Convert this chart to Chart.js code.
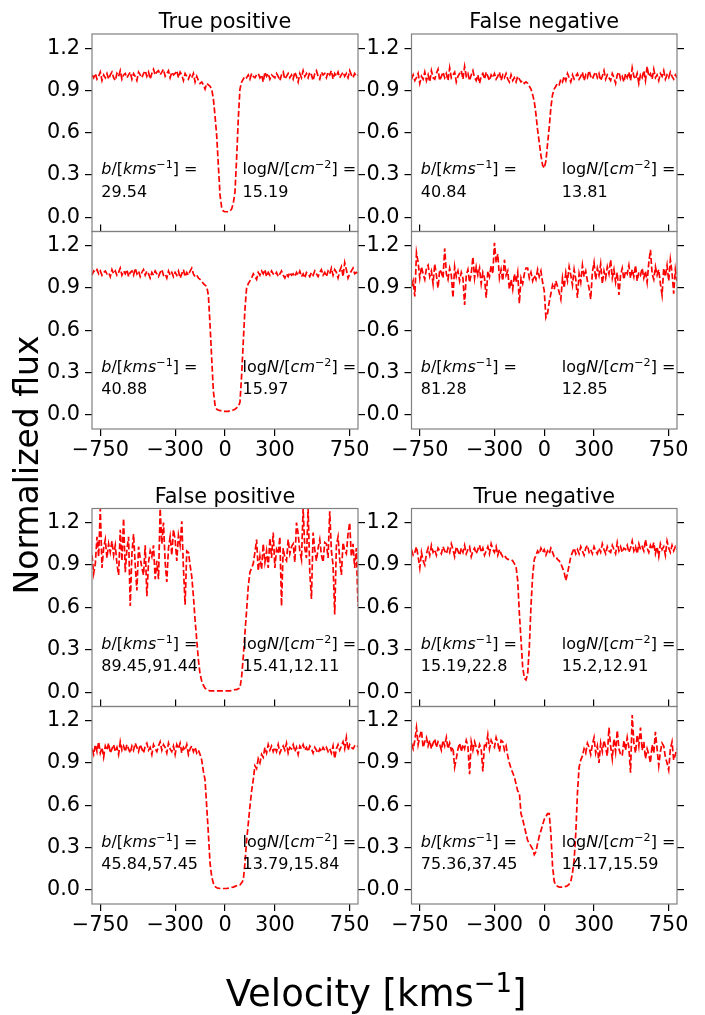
<!DOCTYPE html>
<html>
<head>
<meta charset="utf-8">
<script src="https://cdn.jsdelivr.net/npm/chart.js@4.4.1/dist/chart.umd.min.js"></script>
<style>
    html, body { margin: 0; padding: 0; background: #fff; }
    #fig { position: relative; width: 705px; height: 1015px; background: #fff; }
    #fig canvas { position: absolute; left: 0; top: 0; }
</style>
</head>
<body>
<div id="fig"></div>
<script>
const W = 705, H = 1015;
const FONT = 'DejaVu Sans';

// velocity grid [km/s]
const velocity = [
    -800, -790, -780, -770, -760, -750, -740, -730, -720, -710,
    -700, -690, -680, -670, -660, -650, -640, -630, -620, -610,
    -600, -590, -580, -570, -560, -550, -540, -530, -520, -510,
    -500, -490, -480, -470, -460, -450, -440, -430, -420, -410,
    -400, -390, -380, -370, -360, -350, -340, -330, -320, -310,
    -300, -290, -280, -270, -260, -250, -240, -230, -220, -210,
    -200, -190, -180, -170, -160, -150, -140, -130, -120, -110,
    -100, -90, -80, -70, -60, -50, -40, -30, -20, -10,
    0, 10, 20, 30, 40, 50, 60, 70, 80, 90,
    100, 110, 120, 130, 140, 150, 160, 170, 180, 190,
    200, 210, 220, 230, 240, 250, 260, 270, 280, 290,
    300, 310, 320, 330, 340, 350, 360, 370, 380, 390,
    400, 410, 420, 430, 440, 450, 460, 470, 480, 490,
    500, 510, 520, 530, 540, 550, 560, 570, 580, 590,
    600, 610, 620, 630, 640, 650, 660, 670, 680, 690,
    700, 710, 720, 730, 740, 750, 760, 770, 780, 790,
    800
];

const xTicks = [-750, -300, 0, 300, 750];
const yTicks = [0.0, 0.3, 0.6, 0.9, 1.2];

// True positive
const fluxTP1 = [
    1.01, 0.99, 1.02, 0.98, 1.00, 1.03, 0.97, 1.01, 0.99, 1.02,
    0.98, 1.01, 1.03, 0.99, 0.97, 1.02, 1.00, 1.04, 0.98, 1.01,
    1.02, 0.99, 1.01, 1.03, 0.98, 1.02, 1.00, 0.97, 1.03, 1.01,
    0.99, 1.02, 1.04, 1.00, 1.03, 0.98, 1.02, 1.05, 1.01, 1.03,
    1.04, 1.01, 1.03, 1.05, 1.00, 1.02, 1.04, 0.99, 1.03, 1.01,
    1.02, 1.04, 0.99, 1.03, 1.01, 0.97, 1.02, 1.00, 0.98, 1.01,
    0.99, 1.02, 0.96, 1.00, 0.97, 0.95, 0.96, 0.94, 0.91, 0.95,
    0.94, 0.93, 0.91, 0.84, 0.72, 0.58, 0.37, 0.16, 0.07, 0.045,
    0.04, 0.04, 0.04, 0.045, 0.06, 0.10, 0.18, 0.42, 0.70, 0.91,
    0.96, 0.98, 1.00, 0.99, 1.01, 0.98, 1.02, 1.00, 0.99, 1.01,
    1.02, 0.99, 1.01, 0.96, 1.03, 1.00, 1.02, 0.98, 1.01, 1.00,
    0.99, 1.02, 1.00, 0.97, 1.01, 1.03, 0.98, 1.00, 1.02, 0.99,
    1.01, 0.98, 1.03, 1.00, 0.96, 1.02, 0.99, 1.04, 1.00, 1.02,
    0.99, 1.03, 1.01, 0.97, 1.02, 1.04, 1.00, 0.98, 1.03, 1.01,
    1.02, 0.99, 1.03, 1.01, 1.04, 0.98, 1.02, 1.00, 1.03, 0.99,
    1.01, 1.03, 1.00, 1.02, 0.99, 1.04, 1.01, 0.99, 1.02, 1.00,
    1.01
];
const fluxTP2 = [
    0.99, 1.02, 1.01, 1.03, 1.00, 1.02, 0.99, 1.01, 1.02, 1.00,
    1.01, 0.98, 1.03, 1.00, 1.02, 0.99, 1.01, 1.04, 0.99, 1.02,
    1.00, 1.03, 0.98, 1.01, 1.02, 0.99, 1.04, 1.00, 1.02, 0.98,
    1.01, 1.03, 0.99, 1.02, 1.00, 0.97, 1.01, 0.99, 1.02, 1.00,
    0.98, 1.01, 1.03, 0.99, 1.00, 0.97, 1.02, 0.99, 1.01, 0.98,
    1.01, 0.99, 1.02, 0.97, 1.00, 1.03, 0.98, 1.01, 0.99, 1.02,
    1.04, 1.00, 0.98, 0.99, 0.97, 0.96, 0.95, 0.93, 0.92, 0.91,
    0.85, 0.64, 0.40, 0.17, 0.07, 0.04, 0.035, 0.03, 0.03, 0.025,
    0.025, 0.025, 0.025, 0.03, 0.03, 0.035, 0.04, 0.05, 0.06, 0.09,
    0.28, 0.52, 0.75, 0.90, 0.93, 0.95, 0.97, 1.00, 0.98, 0.96,
    1.01, 0.99, 1.02, 1.00, 1.03, 0.98, 1.01, 0.99, 1.02, 1.00,
    0.99, 1.01, 0.98, 1.00, 1.02, 0.99, 0.97, 1.00, 0.98, 1.01,
    0.99, 1.00, 0.98, 1.01, 0.99, 1.02, 0.98, 1.00, 0.97, 1.01,
    1.00, 0.98, 1.01, 0.99, 1.02, 1.00, 0.98, 1.01, 1.03, 0.99,
    1.01, 0.98, 1.02, 1.00, 1.04, 0.99, 1.03, 1.01, 0.97, 1.02,
    1.05, 0.98, 1.08, 1.03, 0.97, 1.00, 1.02, 1.04, 1.00, 1.01,
    1.00
];

// False negative
const fluxFN1 = [
    0.98, 1.01, 0.97, 0.99, 1.02, 0.95, 1.00, 0.98, 1.03, 0.97,
    1.01, 0.96, 1.04, 0.99, 0.98, 1.02, 1.05, 0.97, 1.00, 1.03,
    0.99, 1.02, 0.97, 1.06, 0.99, 1.01, 1.03, 0.96, 1.00, 1.02,
    1.04, 0.98, 1.07, 1.00, 1.02, 0.97, 1.01, 1.04, 0.99, 0.97,
    1.01, 0.95, 1.00, 1.02, 0.98, 1.03, 1.00, 0.97, 1.01, 0.99,
    1.02, 0.98, 1.00, 1.03, 0.97, 1.01, 0.99, 1.02, 0.98, 0.96,
    1.01, 0.97, 0.99, 0.96, 1.00, 0.98, 0.96, 0.97, 0.95, 0.96,
    0.95, 0.93, 0.91, 0.87, 0.82, 0.73, 0.62, 0.53, 0.44, 0.37,
    0.35, 0.40, 0.52, 0.64, 0.78, 0.87, 0.91, 0.93, 0.95, 0.94,
    0.98, 0.96, 1.00, 0.97, 1.02, 0.99, 0.96, 1.01, 0.98, 1.00,
    1.02, 0.98, 1.00, 1.03, 0.97, 1.01, 0.99, 1.04, 1.00, 0.98,
    1.01, 1.03, 0.99, 1.02, 0.97, 1.00, 1.04, 0.98, 1.01, 0.99,
    0.97, 1.02, 0.99, 0.95, 1.01, 1.03, 0.98, 1.00, 0.96, 1.02,
    0.99, 1.03, 0.97, 1.06, 1.00, 0.98, 1.02, 0.95, 1.01, 0.99,
    1.04, 0.97, 1.07, 1.00, 1.02, 0.98, 1.05, 0.99, 1.01, 0.97,
    1.02, 1.00, 1.04, 0.98, 1.01, 0.99, 1.03, 1.00, 0.98, 1.01,
    0.99
];
const fluxFN2 = [
    0.91, 0.95, 0.84, 1.15, 1.08, 0.97, 1.05, 1.00, 0.96, 1.04,
    1.06, 0.98, 1.02, 0.93, 1.07, 0.99, 0.90, 1.03, 1.01, 0.97,
    1.18, 1.00, 0.96, 1.04, 0.99, 0.83, 1.05, 0.98, 1.02, 0.95,
    1.01, 0.97, 0.78, 0.99, 1.03, 0.94, 1.00, 1.12, 0.97, 1.05,
    0.99, 1.04, 0.93, 1.01, 0.97, 0.83, 1.02, 0.98, 1.06, 1.00,
    1.22, 1.08, 1.14, 0.97, 1.03, 0.95, 1.10, 0.99, 1.02, 0.89,
    0.96, 0.89, 1.00, 0.94, 1.01, 0.79, 0.97, 0.93, 1.00, 1.04,
    1.04, 0.97, 1.01, 0.95, 0.99, 0.96, 1.03, 0.98, 1.02, 0.94,
    0.88, 0.69, 0.72, 0.80, 0.86, 0.92, 0.89, 0.95, 0.91, 0.87,
    0.82, 0.97, 0.90, 1.01, 0.95, 1.05, 0.99, 0.92, 1.03, 0.96,
    0.83, 1.00, 0.94, 1.06, 0.98, 1.02, 0.95, 0.90, 0.82, 1.01,
    1.08, 0.96, 1.04, 0.99, 1.07, 0.93, 1.02, 0.97, 1.05, 1.00,
    1.10, 0.97, 1.03, 0.94, 1.01, 0.85, 0.99, 1.04, 0.96, 1.02,
    1.00, 1.06, 0.97, 1.03, 0.98, 1.06, 0.95, 1.01, 0.99, 1.04,
    0.97, 1.02, 0.94, 1.08, 1.17, 1.00, 0.96, 1.05, 0.99, 1.03,
    0.93, 0.85, 1.04, 0.98, 1.06, 0.95, 1.10, 1.01, 0.86, 1.03,
    0.95
];

// False positive
const fluxFP1 = [
    0.97, 0.84, 0.91, 1.10, 0.96, 1.30, 0.88, 1.02, 1.08, 0.95,
    1.05, 0.99, 1.07, 0.97, 1.04, 0.91, 0.83, 1.15, 0.93, 1.23,
    0.85, 1.01, 1.10, 0.61, 0.98, 1.12, 0.90, 0.72, 1.03, 0.95,
    0.88, 0.83, 1.04, 0.68, 0.92, 1.00, 0.96, 1.04, 0.80, 0.93,
    0.80, 1.30, 1.05, 1.20, 0.92, 0.78, 1.02, 1.10, 0.97, 1.15,
    1.08, 0.93, 1.11, 1.04, 1.21, 0.88, 0.62, 1.00, 0.99, 0.90,
    0.82, 0.68, 0.51, 0.37, 0.23, 0.13, 0.08, 0.05, 0.03, 0.02,
    0.015, 0.01, 0.01, 0.01, 0.01, 0.01, 0.01, 0.01, 0.01, 0.01,
    0.01, 0.01, 0.01, 0.01, 0.015, 0.015, 0.02, 0.02, 0.025, 0.03,
    0.11, 0.25, 0.42, 0.58, 0.75, 0.85, 0.88, 0.91, 0.99, 1.08,
    0.86, 0.96, 0.87, 1.05, 0.92, 1.00, 0.88, 1.09, 0.95, 1.13,
    0.88, 1.01, 0.98, 1.10, 0.61, 1.02, 0.95, 0.93, 1.08, 0.98,
    1.03, 1.05, 0.92, 1.20, 1.12, 1.00, 0.94, 1.30, 1.02, 0.95,
    1.30, 0.85, 0.66, 1.13, 1.01, 0.93, 1.02, 1.08, 0.97, 0.92,
    1.06, 1.05, 0.95, 1.28, 1.00, 0.90, 0.55, 1.04, 1.10, 0.94,
    0.83, 1.06, 1.00, 0.98, 1.12, 1.20, 0.96, 1.05, 0.88, 1.02,
    0.61
];
const fluxFP2 = [
    1.00, 0.96, 1.03, 0.98, 1.05, 0.97, 1.01, 0.94, 1.02, 0.99,
    1.04, 0.97, 1.00, 1.03, 0.98, 1.01, 0.96, 1.05, 0.99, 1.02,
    0.98, 1.03, 1.00, 0.97, 1.02, 0.99, 1.04, 1.01, 0.98, 1.03,
    1.00, 0.97, 1.02, 1.04, 0.99, 1.01, 0.96, 1.03, 1.00, 0.98,
    1.02, 1.05, 0.99, 1.03, 1.01, 0.97, 1.04, 1.00, 0.98, 1.02,
    0.96, 1.03, 1.00, 1.04, 0.97, 1.01, 0.99, 1.03, 0.96, 1.00,
    1.02, 0.98, 1.01, 0.97, 0.99, 0.96, 0.92, 0.84, 0.78, 0.59,
    0.40, 0.19, 0.094, 0.047, 0.025, 0.015, 0.012, 0.01, 0.01, 0.01,
    0.01, 0.01, 0.012, 0.015, 0.018, 0.02, 0.025, 0.03, 0.035, 0.035,
    0.05, 0.07, 0.19, 0.35, 0.47, 0.59, 0.70, 0.78, 0.88, 0.86,
    0.93, 0.90, 0.96, 0.94, 1.01, 0.97, 1.03, 0.99, 1.02, 0.98,
    1.01, 0.98, 1.03, 0.97, 1.00, 1.02, 0.99, 1.04, 0.97, 1.01,
    1.00, 1.03, 0.98, 1.01, 0.96, 1.02, 1.00, 1.03, 0.99, 1.01,
    0.98, 1.02, 1.00, 0.97, 1.01, 0.99, 0.97, 1.00, 0.98, 1.01,
    0.99, 1.01, 0.98, 1.00, 0.97, 1.02, 0.93, 1.00, 1.03, 0.99,
    1.02, 1.05, 1.00, 1.08, 0.99, 1.03, 1.01, 1.00, 1.02, 1.01,
    1.02
];

// True negative
const fluxTN1 = [
    1.01, 0.97, 0.99, 1.03, 0.96, 0.88, 0.99, 0.93, 0.90, 0.98,
    1.02, 0.97, 1.04, 0.99, 1.01, 0.97, 1.02, 1.00, 0.98, 1.03,
    1.00, 0.98, 1.02, 0.99, 1.05, 1.01, 0.96, 1.03, 1.00, 0.97,
    1.02, 0.99, 1.04, 0.98, 1.01, 1.03, 0.96, 1.00, 1.02, 0.98,
    1.01, 1.04, 0.99, 1.02, 0.97, 1.00, 1.03, 0.98, 1.05, 1.01,
    0.99, 1.03, 0.97, 1.01, 0.98, 0.96, 0.97, 0.95, 0.94, 0.94,
    0.94, 0.93, 0.91, 0.89, 0.79, 0.56, 0.37, 0.18, 0.10, 0.088,
    0.13, 0.32, 0.61, 0.82, 0.94, 0.97, 1.00, 0.98, 1.02, 0.99,
    1.01, 0.97, 1.00, 0.98, 1.02, 0.99, 0.96, 0.96, 0.94, 0.93,
    0.91, 0.88, 0.85, 0.79, 0.84, 0.90, 0.96, 0.99, 1.02, 0.98,
    1.01, 0.98, 1.03, 1.00, 0.97, 1.02, 1.04, 0.99, 1.01, 0.98,
    1.03, 1.00, 0.98, 1.02, 0.99, 1.05, 1.01, 0.98, 1.03, 1.00,
    0.99, 1.04, 1.01, 0.98, 1.06, 1.00, 1.03, 0.99, 1.02, 1.01,
    1.04, 0.99, 1.02, 1.07, 1.00, 1.03, 0.98, 1.05, 1.01, 1.03,
    1.00, 1.08, 1.02, 0.99, 1.04, 1.01, 1.06, 0.98, 1.03, 0.96,
    1.05, 1.01, 1.03, 0.97, 1.07, 1.02, 0.99, 1.04, 1.00, 1.03,
    1.01
];
const fluxTN2 = [
    1.04, 1.00, 1.06, 1.15, 1.03, 1.09, 1.13, 1.01, 1.05, 1.08,
    1.02, 1.06, 1.00, 1.04, 1.07, 1.01, 1.05, 1.03, 0.99, 1.06,
    1.02, 1.08, 1.00, 1.04, 0.99, 1.01, 0.87, 0.93, 1.00, 1.04,
    0.98, 1.03, 1.00, 1.06, 1.02, 0.82, 1.05, 0.99, 1.05, 1.01,
    0.97, 1.03, 1.00, 0.84, 1.04, 1.02, 1.10, 1.00, 1.06, 1.03,
    1.01, 1.08, 1.04, 0.98, 1.06, 1.05, 0.99, 1.02, 0.95, 0.90,
    0.86, 0.83, 0.80, 0.75, 0.70, 0.69, 0.54, 0.50, 0.45, 0.40,
    0.35, 0.33, 0.31, 0.29, 0.25, 0.27, 0.33, 0.38, 0.42, 0.46,
    0.50, 0.52, 0.54, 0.54, 0.40, 0.17, 0.06, 0.035, 0.025, 0.02,
    0.02, 0.02, 0.02, 0.025, 0.03, 0.04, 0.06, 0.12, 0.21, 0.40,
    0.685, 0.87, 0.92, 0.95, 1.00, 0.97, 1.04, 1.01, 0.96, 1.03,
    1.08, 0.97, 1.02, 0.90, 1.04, 0.98, 1.06, 1.01, 0.95, 1.15,
    1.02, 0.93, 1.07, 0.98, 1.13, 1.00, 0.96, 0.95, 1.06, 0.99,
    1.08, 1.01, 0.83, 1.24, 1.04, 0.97, 1.10, 1.02, 1.15, 0.99,
    1.05, 0.93, 1.00, 0.96, 0.90, 1.03, 0.97, 1.12, 1.00, 0.88,
    0.98, 1.04, 1.02, 0.94, 0.90, 0.85, 1.00, 1.05, 0.92, 0.96,
    1.00
];

// plot-area boxes [left, top, right, bottom] in page pixels
const panels = [
    { flux: fluxTP1, b: '29.54', logN: '15.19', title: 'True positive', box: [92, 34, 358, 231.5], lower: false },
    { flux: fluxTP2, b: '40.88', logN: '15.97', box: [92, 231.5, 358, 429], lower: true },
    { flux: fluxFN1, b: '40.84', logN: '13.81', title: 'False negative', box: [411.5, 34, 677, 231.5], lower: false },
    { flux: fluxFN2, b: '81.28', logN: '12.85', box: [411.5, 231.5, 677, 429], lower: true },
    { flux: fluxFP1, b: '89.45,91.44', logN: '15.41,12.11', title: 'False positive', box: [92, 508.5, 358, 706.5], lower: false },
    { flux: fluxFP2, b: '45.84,57.45', logN: '13.79,15.84', box: [92, 706.5, 358, 904], lower: true },
    { flux: fluxTN1, b: '15.19,22.8', logN: '15.2,12.91', title: 'True negative', box: [411.5, 508.5, 677, 706.5], lower: false },
    { flux: fluxTN2, b: '75.36,37.45', logN: '14.17,15.59', box: [411.5, 706.5, 677, 904], lower: true }
];

function drawRuns(ctx, runs, x, y, size) {
    for (const r of runs) {
        const s = r.sup ? size * 0.7 : size;
        ctx.font = (r.it ? 'italic ' : '') + s + 'px "' + FONT + '"';
        ctx.fillText(r.t, x, r.sup ? y - size * 0.38 : y);
        x += ctx.measureText(r.t).width;
    }
    return x;
}

function runsWidth(ctx, runs, size) {
    let w = 0;
    for (const r of runs) {
        const s = r.sup ? size * 0.7 : size;
        ctx.font = (r.it ? 'italic ' : '') + s + 'px "' + FONT + '"';
        w += ctx.measureText(r.t).width;
    }
    return w;
}

const bLabel = [{ t: 'b', it: true }, { t: '/[' }, { t: 'kms', it: true }, { t: '\u22121', sup: true }, { t: '] =' }];
const nLabel = [{ t: 'log' }, { t: 'N', it: true }, { t: '/[' }, { t: 'cm', it: true }, { t: '\u22122', sup: true }, { t: '] =' }];

const panelDecor = {
    id: 'panelDecor',
    afterDraw(chart, args, opts) {
        const ctx = chart.ctx, a = chart.chartArea;
        const xs = chart.scales.x, ys = chart.scales.y;
        ctx.save();
        ctx.strokeStyle = '#808080';
        ctx.lineWidth = 1.2;
        ctx.strokeRect(a.left, a.top, a.right - a.left, a.bottom - a.top);

        ctx.fillStyle = '#000';
        ctx.textBaseline = 'alphabetic';
        ctx.textAlign = 'left';
        const x1 = xs.getPixelForValue(-750) + 1;
        const x2 = xs.getPixelForValue(106);
        const l1 = ys.getPixelForValue(0.307), l2 = ys.getPixelForValue(0.148);
        drawRuns(ctx, bLabel, x1, l1, 16);
        drawRuns(ctx, [{ t: opts.b }], x1, l2, 16);
        drawRuns(ctx, nLabel, x2, l1, 16);
        drawRuns(ctx, [{ t: opts.logN }], x2, l2, 16);

        if (opts.title) {
            ctx.textAlign = 'center';
            ctx.font = '20.8px "' + FONT + '"';
            ctx.fillText(opts.title, (a.left + a.right) / 2, a.top - 6);
        }
        ctx.restore();
    }
};

const figureLabels = {
    id: 'figureLabels',
    afterDraw(chart) {
        const ctx = chart.ctx;
        ctx.save();
        ctx.fillStyle = '#000';
        ctx.textBaseline = 'alphabetic';
        ctx.textAlign = 'left';
        const xl = [{ t: 'Velocity [kms' }, { t: '\u22121', sup: true }, { t: ']' }];
        const w = runsWidth(ctx, xl, 37);
        drawRuns(ctx, xl, 376 - w / 2, 1006, 37);

        ctx.translate(38, 465);
        ctx.rotate(-Math.PI / 2);
        ctx.textAlign = 'center';
        ctx.font = '33px "' + FONT + '"';
        ctx.fillText('Normalized flux', 0, 0);
        ctx.restore();
    }
};

function fmtX(v) {
    return v < 0 ? '\u2212' + (-v) : String(v);
}

const tickFont = { family: FONT, size: 20.8 };

function makeChart(p, index) {
    const canvas = document.createElement('canvas');
    canvas.width = W;
    canvas.height = H;
    document.getElementById('fig').appendChild(canvas);

    const [l, t, r, b] = p.box;
    const yW = 60, y2W = 20, xH = 40, x2H = 7;

    const tickGrid = { drawOnChartArea: false, drawTicks: true, tickLength: 7, color: '#000', lineWidth: 1.2 };

    const scales = {
        x: {
            type: 'linear', min: -800, max: 800, position: 'bottom', display: p.lower,
            afterBuildTicks: s => { s.ticks = xTicks.map(v => ({ value: v })); },
            afterFit: s => { s.height = p.lower ? xH : 0; },
            grid: tickGrid,
            border: { display: false },
            ticks: { font: tickFont, color: '#000', padding: 2, maxRotation: 0, minRotation: 0, autoSkip: false, callback: fmtX }
        },
        y: {
            type: 'linear', min: -0.1, max: 1.3, position: 'left',
            afterBuildTicks: s => { s.ticks = yTicks.map(v => ({ value: v })); },
            afterFit: s => { s.width = yW; },
            grid: tickGrid,
            border: { display: false },
            ticks: { font: tickFont, color: '#000', padding: 5, autoSkip: false, callback: v => v.toFixed(1) }
        },
        y2: {
            type: 'linear', min: -0.1, max: 1.3, position: 'right',
            afterBuildTicks: s => { s.ticks = yTicks.map(v => ({ value: v })); },
            afterFit: s => { s.width = y2W; },
            grid: tickGrid,
            border: { display: false },
            ticks: { font: tickFont, autoSkip: false, callback: () => '' }
        }
    };
    if (p.lower) {
        scales.x2 = {
            type: 'linear', min: -800, max: 800, position: 'top',
            afterBuildTicks: s => { s.ticks = xTicks.map(v => ({ value: v })); },
            afterFit: s => { s.height = x2H; },
            grid: tickGrid,
            border: { display: false },
            ticks: { font: tickFont, autoSkip: false, maxRotation: 0, minRotation: 0, callback: () => '' }
        };
    }

    const plugins = [panelDecor];
    if (index === 0) plugins.push(figureLabels);

    return new Chart(canvas.getContext('2d'), {
        type: 'line',
        data: {
            datasets: [{
                data: velocity.map((v, i) => ({ x: v, y: p.flux[i] })),
                borderColor: '#ff0000',
                borderWidth: 1.7,
                borderDash: [6, 2.6],
                pointRadius: 0,
                tension: 0,
                fill: false,
                clip: 0
            }]
        },
        options: {
            responsive: false,
            animation: false,
            events: [],
            layout: {
                padding: {
                    left: l - yW,
                    right: W - r - y2W,
                    top: t - (p.lower ? x2H : 0),
                    bottom: H - b - (p.lower ? xH : 0)
                }
            },
            scales: scales,
            plugins: {
                legend: { display: false },
                tooltip: { enabled: false },
                panelDecor: { b: p.b, logN: p.logN, title: p.title }
            }
        },
        plugins: plugins
    });
}

Chart.defaults.font.family = FONT;
Chart.defaults.color = '#000';
panels.forEach(makeChart);
</script>
</body>
</html>
